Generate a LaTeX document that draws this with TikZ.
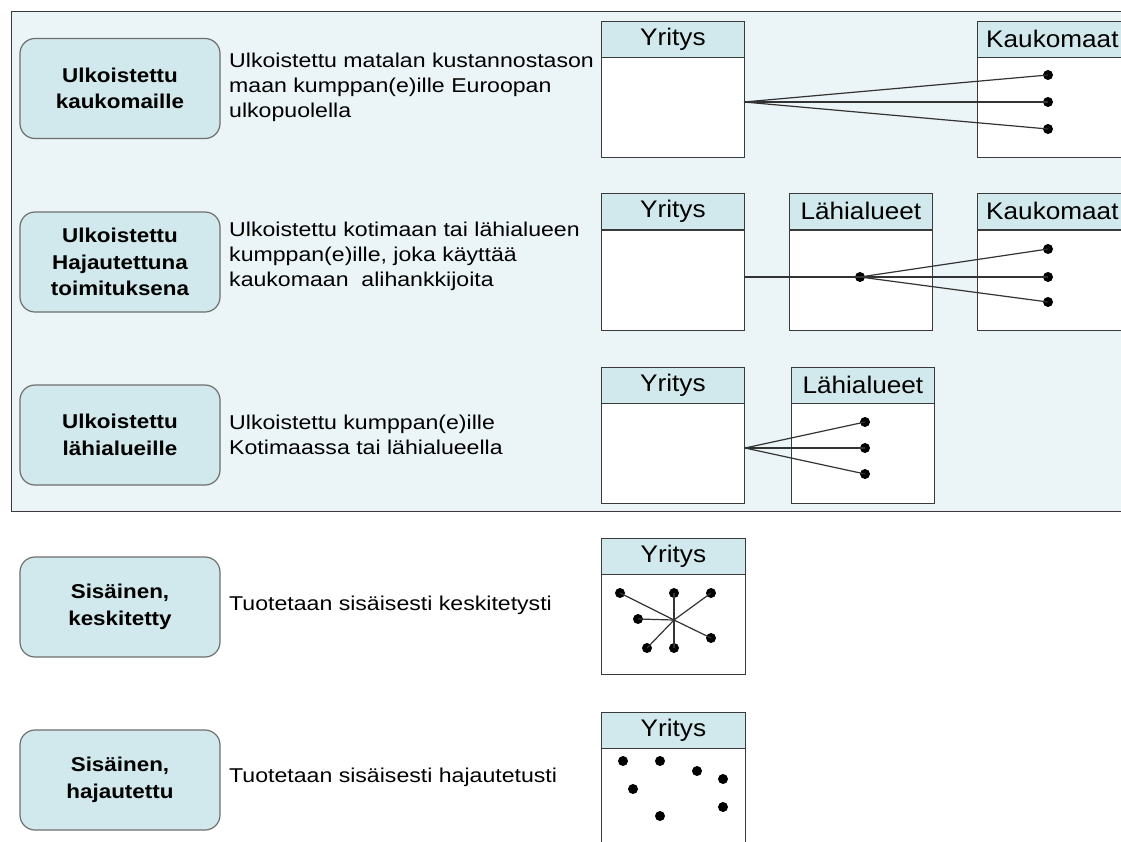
\documentclass[tikz,border=0pt]{standalone}
\usepackage{fontspec}
\setmainfont{Liberation Sans}
\newfontfamily\descfont{Liberation Sans}[FakeStretch=1.155]
\newfontfamily\catfont{Liberation Sans}[FakeStretch=1.12]
\newfontfamily\headfont{Liberation Sans}[FakeStretch=1.09]
\definecolor{panelfill}{HTML}{EBF4F6}
\definecolor{boxfill}{HTML}{D1E9EC}
\definecolor{boxline}{HTML}{6E6E6E}
\definecolor{frameline}{HTML}{3A3A3A}
\definecolor{wireline}{HTML}{333333}
\tikzset{
  catbox/.style={draw=boxline, line width=1.2pt, fill=boxfill, rounded corners=15pt,
    minimum width=200pt, minimum height=100pt, align=center,
    font=\catfont\bfseries\fontsize{20}{26.5}\selectfont},
  desc/.style={anchor=west, inner sep=0pt, align=left,
    font=\descfont\fontsize{20}{25}\selectfont},
  head/.style={draw=frameline, line width=0.8pt, fill=boxfill, anchor=north west,
    minimum height=36pt, inner sep=0pt, font=\headfont\fontsize{24}{24}\selectfont},
  body/.style={draw=frameline, line width=0.8pt, fill=white, anchor=north west, inner sep=0pt},
  dot/.style={circle, fill=black, inner sep=0pt, minimum size=10pt},
  wire/.style={draw=wireline, line width=1.2pt}
}
\begin{document}
\begin{tikzpicture}[x=1pt, y=-1pt]
\useasboundingbox (0,0) rectangle (1121,841);
\clip (0,0) rectangle (1121,841);
\fill[white] (0,0) rectangle (1121,841);

% shaded panel for the outsourced variants
\draw[frameline, fill=panelfill, line width=0.9pt] (11,11) rectangle (1140,511);

% category boxes
\node[catbox] (c1) at (120,88.5) {Ulkoistettu\\kaukomaille};
\node[catbox] (c2) at (120,262) {Ulkoistettu\\Hajautettuna\\toimituksena};
\node[catbox] (c3) at (120,435) {Ulkoistettu\\lähialueille};
\node[catbox] (c4) at (120,607) {Sisäinen,\\keskitetty};
\node[catbox] (c5) at (120,780) {Sisäinen,\\hajautettu};

% descriptions
\node[desc] (d1) at (229,87) {Ulkoistettu matalan kustannostason\\maan kumppan(e)ille Euroopan\\ulkopuolella};
\node[desc] (d2) at (229,256) {Ulkoistettu kotimaan tai lähialueen\\kumppan(e)ille, joka käyttää\\kaukomaan\ \ alihankkijoita};
\node[desc] (d3) at (229,435) {Ulkoistettu kumppan(e)ille\\Kotimaassa tai lähialueella};
\node[desc] (d4) at (229,605) {Tuotetaan sisäisesti keskitetysti};
\node[desc] (d5) at (229,777) {Tuotetaan sisäisesti hajautetusti};

% row 1: company -> distant countries
\node[body, minimum width=143pt, minimum height=100pt] (y1b) at (601,57) {};
\node[head, minimum width=143pt] (y1h) at (601,21) {Yritys};
\node[body, minimum width=150pt, minimum height=100pt] (k1b) at (977,57) {};
\node[head, minimum width=150pt] (k1h) at (977,21) {Kaukomaat};
\coordinate (s1) at (744,102);
\node[dot] (k1a) at (1048,75) {};
\node[dot] (k1c) at (1048,102) {};
\node[dot] (k1e) at (1048,129) {};
\draw[wire] (s1) -- (k1a.center);
\draw[wire] (s1) -- (k1c.center);
\draw[wire] (s1) -- (k1e.center);

% row 2: company -> nearby partner -> distant subcontractors
\node[body, minimum width=143pt, minimum height=100pt] (y2b) at (601,230) {};
\node[head, minimum width=143pt] (y2h) at (601,193) {Yritys};
\node[body, minimum width=143pt, minimum height=100pt] (l2b) at (789,230) {};
\node[head, minimum width=143pt] (l2h) at (789,193) {Lähialueet};
\node[body, minimum width=150pt, minimum height=100pt] (k2b) at (977,230) {};
\node[head, minimum width=150pt] (k2h) at (977,193) {Kaukomaat};
\coordinate (s2) at (744,277);
\node[dot] (hub2) at (860,277) {};
\node[dot] (k2a) at (1048,249) {};
\node[dot] (k2c) at (1048,277) {};
\node[dot] (k2e) at (1048,302) {};
\draw[wire] (s2) -- (hub2.center);
\draw[wire] (hub2.center) -- (k2a.center);
\draw[wire] (hub2.center) -- (k2c.center);
\draw[wire] (hub2.center) -- (k2e.center);

% row 3: company -> nearby partners
\node[body, minimum width=143pt, minimum height=100pt] (y3b) at (601,403) {};
\node[head, minimum width=143pt] (y3h) at (601,367) {Yritys};
\node[body, minimum width=143pt, minimum height=100pt] (l3b) at (791,403) {};
\node[head, minimum width=143pt] (l3h) at (791,367) {Lähialueet};
\coordinate (s3) at (745,448);
\node[dot] (l3a) at (865,422) {};
\node[dot] (l3c) at (865,448) {};
\node[dot] (l3e) at (865,474) {};
\draw[wire] (s3) -- (l3a.center);
\draw[wire] (s3) -- (l3c.center);
\draw[wire] (s3) -- (l3e.center);

% row 4: internal, centralised
\node[body, minimum width=144pt, minimum height=100pt] (y4b) at (601,574) {};
\node[head, minimum width=144pt] (y4h) at (601,538) {Yritys};
\coordinate (hub4) at (674,620);
\node[dot] (p4a) at (620,593) {};
\node[dot] (p4b) at (674,593) {};
\node[dot] (p4c) at (711,593) {};
\node[dot] (p4d) at (638,619) {};
\node[dot] (p4e) at (647,648) {};
\node[dot] (p4f) at (674,648) {};
\node[dot] (p4g) at (711,638) {};
\foreach \p in {p4a,p4b,p4c,p4d,p4e,p4f,p4g}
  \draw[wire] (hub4) -- (\p.center);

% row 5: internal, distributed
\node[body, minimum width=144pt, minimum height=140pt] (y5b) at (601,748) {};
\node[head, minimum width=144pt] (y5h) at (601,712) {Yritys};
\node[dot] (p5a) at (623,761) {};
\node[dot] (p5b) at (660,761) {};
\node[dot] (p5c) at (697,771) {};
\node[dot] (p5d) at (723,779) {};
\node[dot] (p5e) at (633,789) {};
\node[dot] (p5f) at (723,807) {};
\node[dot] (p5g) at (660,816) {};
\end{tikzpicture}
\end{document}
